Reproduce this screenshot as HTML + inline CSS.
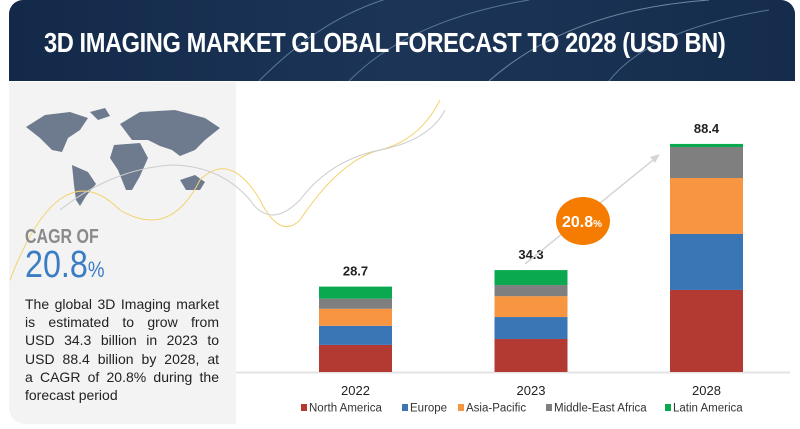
<!DOCTYPE html>
<html><head><meta charset="utf-8">
<style>
html,body{margin:0;padding:0;background:#fff;}
body{width:800px;height:429px;position:relative;overflow:hidden;font-family:"Liberation Sans",sans-serif;}
#header{position:absolute;left:9px;top:0;width:786px;height:81px;border-radius:14px 14px 0 0;background:linear-gradient(90deg,#13294a,#1c3557 50%,#152c4c);overflow:hidden;}
#title{position:absolute;left:35px;top:27px;color:#fff;font-size:28px;font-weight:bold;letter-spacing:-0.5px;transform:scaleX(0.845);transform-origin:left top;white-space:nowrap;}
#left{position:absolute;left:9px;top:82px;width:227px;height:342px;background:#f3f3f3;border-radius:0 0 0 16px;}
#cagr-of{position:absolute;left:25px;top:226px;font-size:20px;color:#8a8a8a;font-weight:bold;transform:scaleX(0.8);transform-origin:left top;}
#cagr-val{position:absolute;left:25px;top:244px;font-size:38px;color:#3b7dc4;transform:scaleX(0.85);transform-origin:left top;white-space:nowrap;}
#cagr-val span{font-size:22px;}
#desc{position:absolute;left:25px;top:295px;width:194px;font-size:14px;line-height:18.2px;color:#222;}
#desc div{text-align:justify;text-align-last:justify;white-space:nowrap;}
#desc div.last{text-align-last:left;}
</style></head><body>
<div id="header">
<svg width="786" height="81" style="position:absolute;left:0;top:0">
<path d="M250 81 Q330 0 420 -10" stroke="#5a7797" fill="none" stroke-width="1"/>
<path d="M340 81 Q400 20 520 0" stroke="#5a7797" fill="none" stroke-width="1"/>
<path d="M480 81 Q560 10 700 0" stroke="#6d86a3" fill="none" stroke-width="1"/>
<path d="M600 81 Q640 30 760 10" stroke="#5a7797" fill="none" stroke-width="1"/>
</svg>
<div id="title">3D IMAGING MARKET GLOBAL FORECAST TO 2028 (USD BN)</div>
</div>
<div id="left"></div>
<svg width="800" height="429" style="position:absolute;left:0;top:0">
<g fill="#6e7b8e">
<path d="M26 127 L45 115 L70 112 L88 118 L80 130 L68 138 L62 152 L52 150 L40 138 Z"/>
<path d="M72 165 L88 172 L96 184 L86 196 L80 206 L76 200 L74 185 Z"/>
<path d="M120 124 L140 112 L175 110 L205 118 L220 128 L205 140 L195 150 L180 156 L172 150 L160 146 L148 140 L132 140 Z"/>
<path d="M114 145 L140 143 L148 158 L140 176 L132 190 L126 190 L118 170 L110 158 Z"/>
<path d="M180 180 L195 175 L205 182 L200 190 L186 190 Z"/>
<path d="M90 112 L105 108 L110 116 L98 120 Z"/>
</g>
<path d="M10 280 Q60 150 120 210 Q170 240 200 180 Q230 150 260 200 Q280 240 300 220 Q340 160 380 150 Q420 140 440 100" stroke="#f2d36f" fill="none" stroke-width="1"/>
<path d="M60 210 Q110 170 170 165 Q220 165 250 200 Q270 230 300 200 Q330 160 380 150 Q430 140 445 110" stroke="#cccccc" fill="none" stroke-width="1"/>
</svg>
<div id="cagr-of">CAGR OF</div>
<div id="cagr-val">20.8<span>%</span></div>
<div id="desc">
<div>The global 3D Imaging market</div>
<div>is estimated to grow from</div>
<div>USD 34.3 billion in 2023 to</div>
<div>USD 88.4 billion by 2028, at</div>
<div>a CAGR of 20.8% during the</div>
<div class="last">forecast period</div>
</div>
<svg id="chart" width="800" height="429" style="position:absolute;left:0;top:0"></svg>
<script>
const categories=["2022","2023","2028"];
const totals=["28.7","34.3","88.4"];
const seriesNames=["North America","Europe","Asia-Pacific","Middle-East Africa","Latin America"];
const northAmerica=[10.5,12.8,31.8];
const europe=[7.4,8.5,21.7];
const asiaPacific=[6.6,8.1,21.7];
const middleEastAfrica=[3.9,4.3,12.0];
const latinAmerica=[4.7,5.8,1.2];
const series=[northAmerica,europe,asiaPacific,middleEastAfrica,latinAmerica];
const colors=["#b33a33","#3a75b5","#f79541","#7f7f7f","#0aa84f"];
const NS="http://www.w3.org/2000/svg";
const svg=document.getElementById('chart');
const baseY=372, pxPer=2.58, x0=319, step=175.5, bw=73;
function xPos(i){return x0+i*step;}
function yPos(v){return baseY-v*pxPer;}
function mk(t,a){const e=document.createElementNS(NS,t);for(const k in a)e.setAttribute(k,a[k]);svg.appendChild(e);return e;}
const axis=mk('line',{x1:236,x2:790,y1:baseY+0.5,y2:baseY+0.5,stroke:'#e3e3e3','stroke-width':2});


categories.forEach((c,i)=>{
  let cum=0;
  series.forEach((s,j)=>{
    const y1=yPos(cum+s[i]),y0=yPos(cum);
    const r=mk('rect',{x:xPos(i),y:y1,width:bw,height:y0-y1,fill:colors[j]});
    
    
    cum+=s[i];
  });
  const t=mk('text',{x:xPos(i)+bw/2,y:yPos(cum)-11,'text-anchor':'middle','font-size':13,'font-weight':'bold',fill:'#222','font-family':'Liberation Sans'});
  t.textContent=totals[i];
  
  
  const l=mk('text',{x:xPos(i)+bw/2,y:395,'text-anchor':'middle','font-size':13,fill:'#222','font-family':'Liberation Sans'});
  l.textContent=c;
  
  
});
const ar=mk('line',{x1:525,y1:264,x2:658,y2:156,stroke:'#d5d5d5','stroke-width':1.5});


const ah=mk('polygon',{points:'660,154 650,157 655,163',fill:'#d5d5d5'});


const bub=mk('ellipse',{cx:583,cy:221,rx:27,ry:24,fill:'#f57c00'});


const bt=mk('text',{x:582,y:227,'text-anchor':'middle','font-size':16,'font-weight':'bold',fill:'#fff','font-family':'Liberation Sans'});
bt.innerHTML='20.8<tspan font-size="10">%</tspan>';


const legX=[301,402,458,546,665];
seriesNames.forEach((n,j)=>{
  const r=mk('rect',{x:legX[j],y:404,width:6,height:7,fill:colors[j]});
  
  
  const t=mk('text',{x:legX[j]+8,y:411.5,'font-size':11.5,fill:'#333','font-family':'Liberation Sans'});
  t.textContent=n;
  
  
});
</script>
</body></html>
